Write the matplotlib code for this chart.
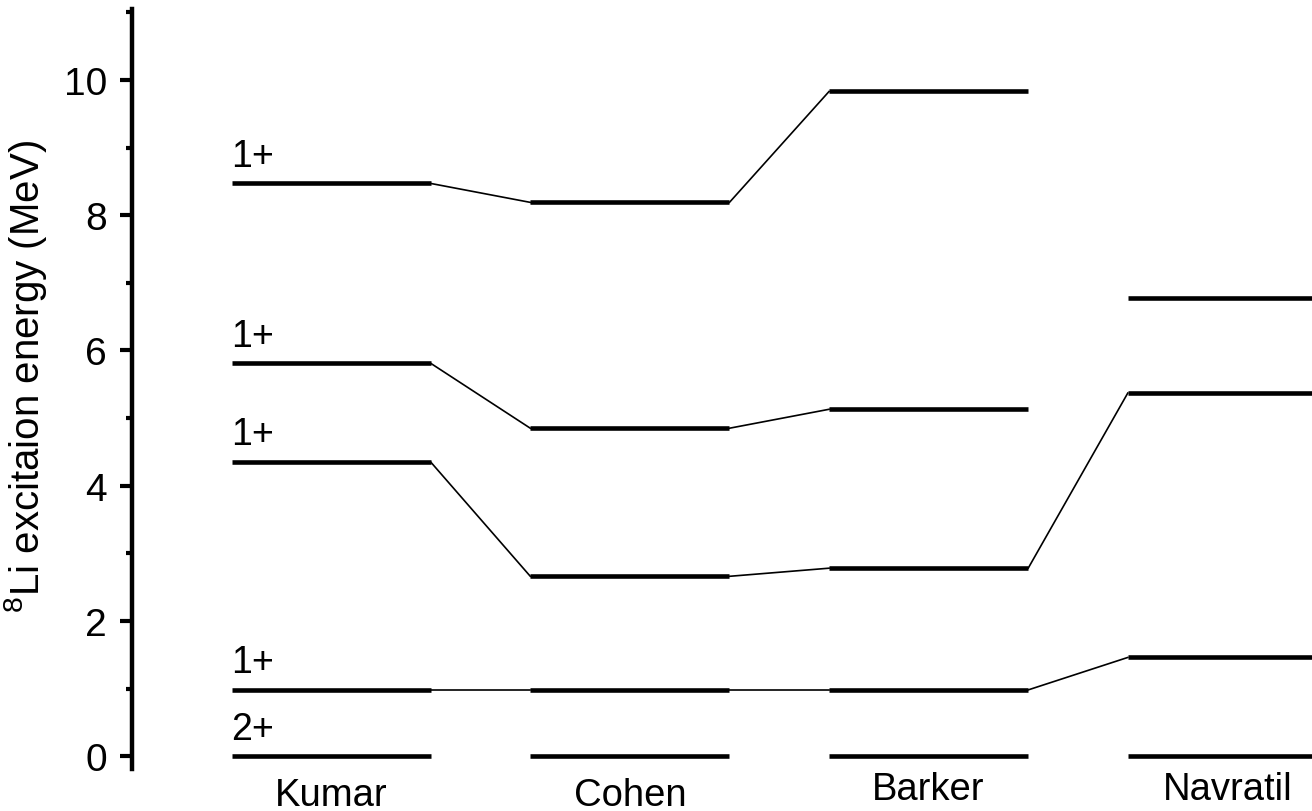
import matplotlib
matplotlib.use('Agg')
import matplotlib.pyplot as plt
from matplotlib.ticker import MultipleLocator

plt.rcParams['font.family'] = ['Liberation Sans', 'DejaVu Sans']
plt.rcParams['mathtext.fontset'] = 'custom'
plt.rcParams['mathtext.rm'] = 'Liberation Sans'
plt.rcParams['mathtext.default'] = 'regular'

# level energies (MeV) for each calculation, listed bottom to top
authors = ['Kumar', 'Cohen', 'Barker', 'Navratil']
kumar = [0.0, 0.98, 4.35, 5.81, 8.47]
cohen = [0.0, 0.98, 2.66, 4.85, 8.19]
barker = [0.0, 0.98, 2.78, 5.13, 9.83]
navratil = [0.0, 1.46, 5.37, 6.78]
levels = [kumar, cohen, barker, navratil]

# spin-parity labels shown beside the Kumar levels
spin_labels = ['2+', '1+', '1+', '1+', '1+']

# which levels are joined between neighbouring columns: (col, level, col, level)
links = [
    (0, 1, 1, 1), (1, 1, 2, 1), (2, 1, 3, 1),
    (0, 2, 1, 2), (1, 2, 2, 2), (2, 2, 3, 2),
    (0, 3, 1, 3), (1, 3, 2, 3),
    (0, 4, 1, 4), (1, 4, 2, 4),
]

fig = plt.figure(figsize=(13.12, 8.12), dpi=100)
ax = fig.add_axes([0.1006, 0.0517, 0.8994, 0.936])

width = 2.0
step = 3.0
for i, col in enumerate(levels):
    x0 = i * step
    for e in col:
        ax.plot([x0, x0 + width], [e, e], color='black', lw=3.3,
                solid_capstyle='butt')

for c1, l1, c2, l2 in links:
    ax.plot([c1 * step + width, c2 * step], [levels[c1][l1], levels[c2][l2]],
            color='black', lw=1.2)

for e, lab in zip(kumar, spin_labels):
    ax.text(0.0, e + 0.26, lab, fontsize=27, ha='left', va='baseline')

name_y = [-0.72, -0.72, -0.64, -0.64]
for i, (name, ny) in enumerate(zip(authors, name_y)):
    ax.text(i * step + width / 2, ny, name, fontsize=27.5, ha='center',
            va='baseline', clip_on=False)

ax.set_xlim(-1.0, 10.85)
ax.set_ylim(-0.19, 11.05)
ax.yaxis.set_major_locator(MultipleLocator(2))
ax.yaxis.set_minor_locator(MultipleLocator(1))
ax.tick_params(axis='y', which='major', length=9, width=3, labelsize=28, pad=9)
ax.tick_params(axis='y', which='minor', length=4, width=3)
ax.set_xticks([])
for s in ['top', 'right', 'bottom']:
    ax.spines[s].set_visible(False)
ax.spines['left'].set_linewidth(3.2)

ax.set_ylabel('$^8$Li excitaion energy (MeV)', fontsize=29)
ax.yaxis.set_label_coords(-0.07, 0.518)

fig.savefig('out.png', dpi=100)
